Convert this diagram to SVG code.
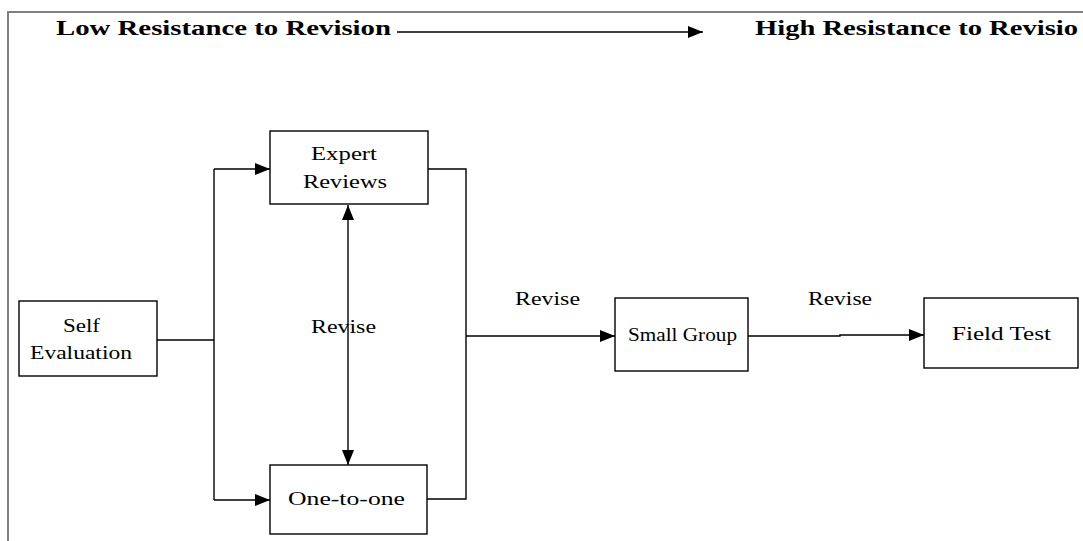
<svg xmlns="http://www.w3.org/2000/svg" width="1083" height="541" viewBox="0 0 1083 541">
<style>
.box{fill:#fff;stroke:#000;stroke-width:1.4}
.t{font-family:"Liberation Serif","Times New Roman",serif;font-size:19.5px;fill:#000}
.h{font-family:"Liberation Serif","Times New Roman",serif;font-size:21px;font-weight:bold;fill:#000}
.ln{fill:none;stroke:#000;stroke-width:1.4}
</style>
<defs>
<marker id="ah" markerWidth="16" markerHeight="12" refX="15" refY="6" orient="auto" markerUnits="userSpaceOnUse">
<path d="M0,0 L15,6 L0,12 Z" fill="#000"/>
</marker>
<marker id="as" markerWidth="16" markerHeight="12" refX="1" refY="6" orient="auto" markerUnits="userSpaceOnUse">
<path d="M16,0 L1,6 L16,12 Z" fill="#000"/>
</marker>
</defs>
<rect width="1083" height="541" fill="#fff"/>
<g id="frame">
<path d="M8,541 L8,12 L1083,12" fill="none" stroke="#808080" stroke-width="2"/>
</g>
<g id="header">
<text class="h" x="56" y="35" textLength="335" lengthAdjust="spacingAndGlyphs">Low Resistance to Revision</text>
<text class="h" x="755" y="35" textLength="323" lengthAdjust="spacingAndGlyphs">High Resistance to Revisio</text>
</g>
<g id="connectors">
<line class="ln" x1="397" y1="32" x2="703" y2="32" marker-end="url(#ah)"/>
<path class="ln" d="M157,340 L214,340"/>
<path class="ln" d="M214,169 L214,500"/>
<line class="ln" x1="214" y1="169" x2="270" y2="169" marker-end="url(#ah)"/>
<line class="ln" x1="214" y1="500" x2="270" y2="500" marker-end="url(#ah)"/>
<line class="ln" x1="348" y1="205" x2="348" y2="465" marker-start="url(#as)" marker-end="url(#ah)"/>
<path class="ln" d="M428,169 L466,169 L466,499 L427,499"/>
<line class="ln" x1="466" y1="336" x2="615" y2="336" marker-end="url(#ah)"/>
<path class="ln" d="M748,336 L840,336 L840,335 L924,335" marker-end="url(#ah)"/>
<text class="t" x="515" y="305" textLength="65" lengthAdjust="spacingAndGlyphs">Revise</text>
<text class="t" x="808" y="305" textLength="64" lengthAdjust="spacingAndGlyphs">Revise</text>
<text class="t" x="311" y="333" textLength="65" lengthAdjust="spacingAndGlyphs">Revise</text>
</g>
<g id="self-evaluation">
<rect class="box" x="19" y="301" width="138" height="75"/>
<text class="t" x="63" y="332" textLength="37" lengthAdjust="spacingAndGlyphs">Self</text>
<text class="t" x="30" y="359" textLength="102" lengthAdjust="spacingAndGlyphs">Evaluation</text>
</g>
<g id="expert-reviews">
<rect class="box" x="270" y="131" width="158" height="73"/>
<text class="t" x="311" y="160" textLength="66" lengthAdjust="spacingAndGlyphs">Expert</text>
<text class="t" x="303" y="188" textLength="84" lengthAdjust="spacingAndGlyphs">Reviews</text>
</g>
<g id="one-to-one">
<rect class="box" x="270" y="465" width="157" height="69"/>
<text class="t" x="288" y="505" textLength="117" lengthAdjust="spacingAndGlyphs">One-to-one</text>
</g>
<g id="small-group">
<rect class="box" x="615" y="298" width="133" height="73"/>
<text class="t" x="628" y="341" textLength="109" lengthAdjust="spacingAndGlyphs">Small Group</text>
</g>
<g id="field-test">
<rect class="box" x="924" y="298" width="154" height="70"/>
<text class="t" x="952" y="340" textLength="99" lengthAdjust="spacingAndGlyphs">Field Test</text>
</g>
</svg>
